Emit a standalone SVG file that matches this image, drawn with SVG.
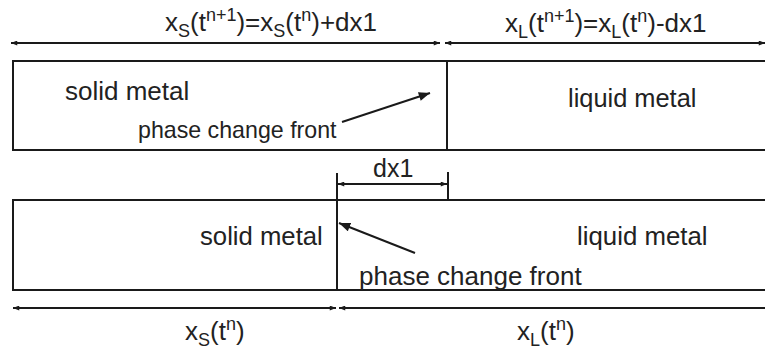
<svg xmlns="http://www.w3.org/2000/svg" width="765" height="356" viewBox="0 0 765 356">
<defs>
<style>
.t{font-family:"Liberation Sans",Arial,sans-serif;font-size:26px;fill:#222}
.s{font-size:18px}
.box{fill:none;stroke:#1a1a1a;stroke-width:2}
.ln{fill:none;stroke:#1a1a1a;stroke-width:2}
.dim{fill:none;stroke:#1a1a1a;stroke-width:1.8}
</style>
<marker id="ah" viewBox="0 0 10 8" refX="10" refY="4" markerWidth="7" markerHeight="5" orient="auto-start-reverse" markerUnits="userSpaceOnUse">
<path d="M0,0 L10,4 L0,8 z" fill="#1a1a1a"/>
</marker>
<marker id="ap" viewBox="0 0 10 8" refX="10" refY="4" markerWidth="12" markerHeight="9" orient="auto" markerUnits="userSpaceOnUse">
<path d="M0,0 L10,4 L0,8 z" fill="#1a1a1a"/>
</marker>
</defs>
<rect width="765" height="356" fill="#fff"/>

<g id="top-state">
<path class="box" d="M770,61 H13 V150 H770"/>
<line class="ln" x1="447" y1="61" x2="447" y2="150"/>
<g id="top-solid"><text class="t" x="65" y="100">solid metal</text></g>
<g id="top-liquid"><text class="t" x="568" y="107" style="font-size:25.4px">liquid metal</text></g>
<g id="top-front-label"><text class="t" x="138" y="138" style="font-size:23.2px">phase change front</text></g>
</g>

<g id="bottom-state">
<path class="box" d="M770,200 H13 V290 H770"/>
<line class="ln" x1="337" y1="173" x2="337" y2="290"/>
<g id="bottom-solid"><text class="t" x="200" y="245" style="font-size:25.7px">solid metal</text></g>
<g id="bottom-liquid"><text class="t" x="577" y="245" style="font-size:25.8px">liquid metal</text></g>
<g id="bottom-front-label"><text class="t" x="359" y="285">phase change front</text></g>
</g>

<g id="connectors">
<line class="dim" x1="11" y1="43" x2="440" y2="43" marker-start="url(#ah)" marker-end="url(#ah)"/>
<line class="dim" x1="445" y1="43" x2="765" y2="43" marker-start="url(#ah)" marker-end="url(#ah)"/>
<line class="dim" x1="338" y1="184" x2="447" y2="184" marker-start="url(#ah)" marker-end="url(#ah)"/>
<line class="ln" x1="448" y1="172" x2="448" y2="200"/>
<line class="dim" x1="13" y1="308" x2="336" y2="308" marker-start="url(#ah)" marker-end="url(#ah)"/>
<line class="dim" x1="339" y1="308" x2="770" y2="308" marker-start="url(#ah)"/>
<line class="ln" x1="342" y1="122" x2="430" y2="93" marker-end="url(#ap)"/>
<line class="ln" x1="415" y1="253" x2="339" y2="223" marker-end="url(#ap)"/>
</g>

<g id="labels">
<text class="t" x="165" y="31">x<tspan class="s" dy="6">S</tspan><tspan dy="-6">(t</tspan><tspan class="s" dy="-10">n+1</tspan><tspan dy="10">)=x</tspan><tspan class="s" dy="6">S</tspan><tspan dy="-6">(t</tspan><tspan class="s" dy="-10">n</tspan><tspan dy="10">)+dx1</tspan></text>
<text class="t" x="505" y="32">x<tspan class="s" dy="6">L</tspan><tspan dy="-6">(t</tspan><tspan class="s" dy="-10">n+1</tspan><tspan dy="10">)=x</tspan><tspan class="s" dy="6">L</tspan><tspan dy="-6">(t</tspan><tspan class="s" dy="-10">n</tspan><tspan dy="10">)-dx1</tspan></text>
<text class="t" x="373" y="177" style="font-size:25px">dx1</text>
<text class="t" x="185" y="340">x<tspan class="s" dy="6">S</tspan><tspan dy="-6">(t</tspan><tspan class="s" dy="-10">n</tspan><tspan dy="10">)</tspan></text>
<text class="t" x="517" y="340">x<tspan class="s" dy="6">L</tspan><tspan dy="-6">(t</tspan><tspan class="s" dy="-10">n</tspan><tspan dy="10">)</tspan></text>
</g>
</svg>
